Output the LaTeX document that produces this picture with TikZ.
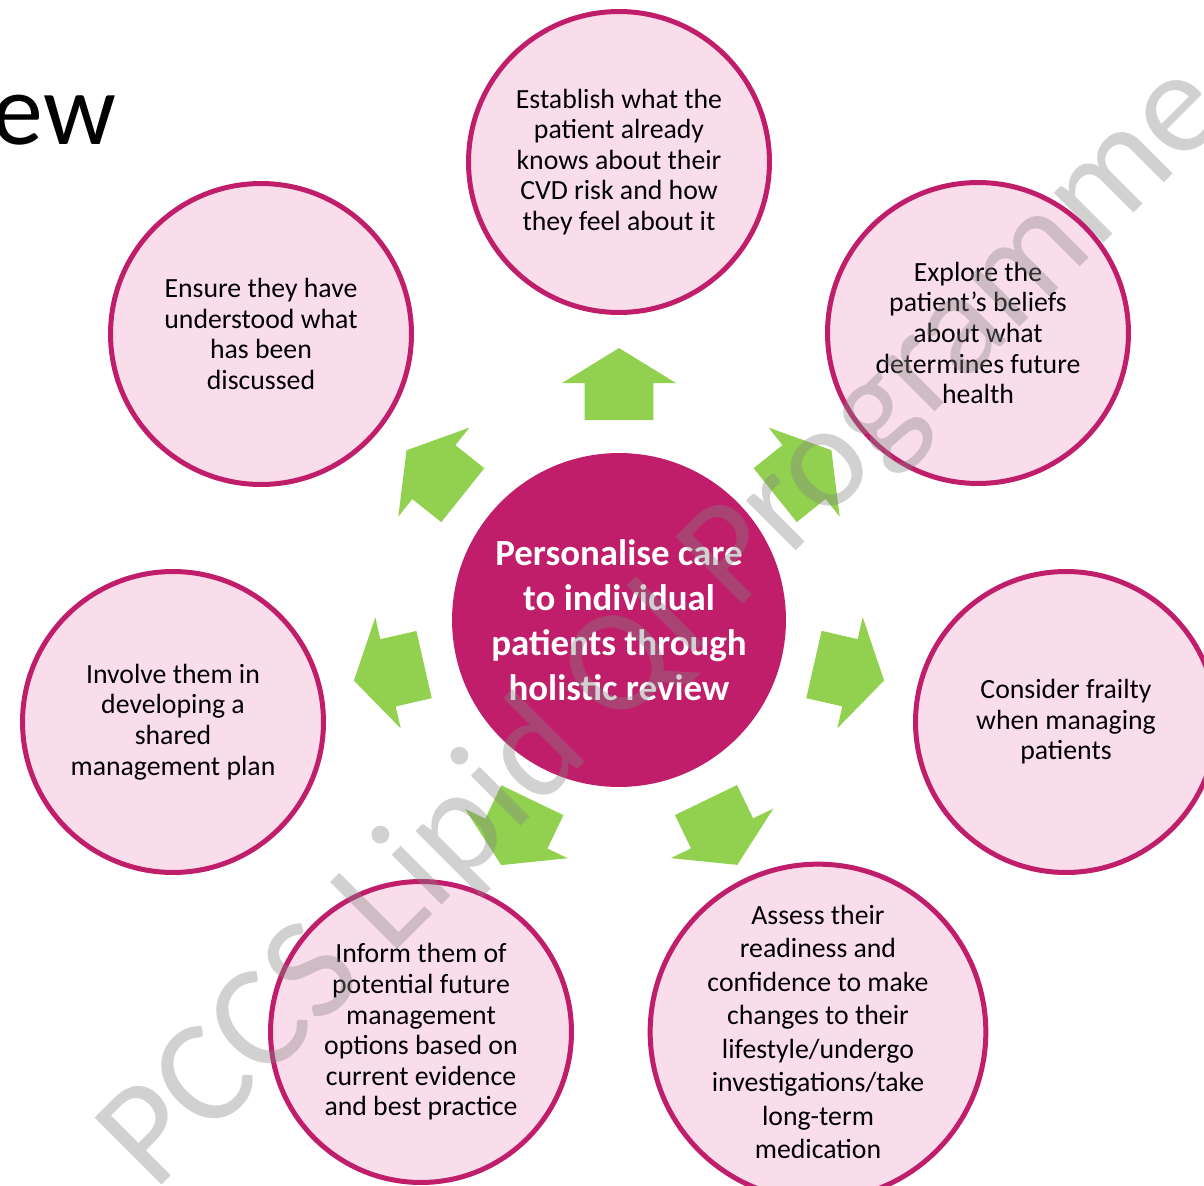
\documentclass[tikz,border=0pt]{standalone}
\usepackage{fontspec}
\setmainfont{Carlito}
\usetikzlibrary{calc}

\definecolor{plum}{RGB}{192,30,106}
\definecolor{blush}{RGB}{250,221,235}
\definecolor{leaf}{RGB}{146,208,80}
\definecolor{stamp}{RGB}{131,131,131}

% green block arrow pointing from the hub towards one bubble
\newcommand{\pointer}[1]{%
  \fill[leaf] ($(hub.center)!4.00cm!(#1.center)!0.69cm!90:(#1.center)$)
    -- ($(hub.center)!4.74cm!(#1.center)!0.69cm!90:(#1.center)$)
    -- ($(hub.center)!4.74cm!(#1.center)!1.14cm!90:(#1.center)$)
    -- ($(hub.center)!5.44cm!(#1.center)$)
    -- ($(hub.center)!4.74cm!(#1.center)!1.14cm!-90:(#1.center)$)
    -- ($(hub.center)!4.74cm!(#1.center)!0.69cm!-90:(#1.center)$)
    -- ($(hub.center)!4.00cm!(#1.center)!0.69cm!-90:(#1.center)$) -- cycle;}

\begin{document}
\begin{tikzpicture}[x=0.02cm, y=-0.02cm,
    bubble/.style={circle, draw=plum, line width=0.1cm, fill=blush,
      minimum size=6.02cm, inner sep=0pt, align=center,
      font=\fontsize{15.8}{17.4}\selectfont},
    core/.style={circle, fill=plum, minimum size=6.68cm, inner sep=0pt,
      align=center, text=white, font=\fontsize{21}{25.6}\selectfont\bfseries}]
    \useasboundingbox (0,0) rectangle (1204,1186);

    \node[anchor=base east, font=\fontsize{58}{58}\selectfont] (title) at (122,145) {ew};

    \node[bubble] (est) at (619,162) {Establish what the\\patient already\\knows about their\\CVD risk and how\\they feel about it};
    \node[bubble] (expl) at (978,333) {Explore the\\patient’s beliefs\\about what\\determines future\\health};
    \node[bubble] (frail) at (1066,722) {Consider frailty\\when managing\\patients};
    \node[bubble, font=\fontsize{15.8}{19.1}\selectfont] (assess) at (818,1032) {Assess their\\readiness and\\confidence to make\\changes to their\\lifestyle/undergo\\investigations/take\\long-term\\medication};
    \node[bubble] (inform) at (421,1032) {Inform them of\\potential future\\management\\options based on\\current evidence\\and best practice};
    \node[bubble] (involve) at (173,722) {Involve them in\\developing a\\shared\\management plan};
    \node[bubble] (ensure) at (261,334) {Ensure they have\\understood what\\has been\\discussed};

    \node[core] (hub) at (619,620) {Personalise care\\to individual\\patients through\\holistic review};

    \foreach \n in {est,expl,frail,assess,inform,involve,ensure}
        \pointer{\n};

    % faint stamp across the whole sheet
    \node[text=stamp, opacity=0.37, rotate=45, anchor=base,
      font=\fontsize{84}{84}\selectfont] (mark) at (693,654) {PCCS Lipid QI Programme};
\end{tikzpicture}
\end{document}
